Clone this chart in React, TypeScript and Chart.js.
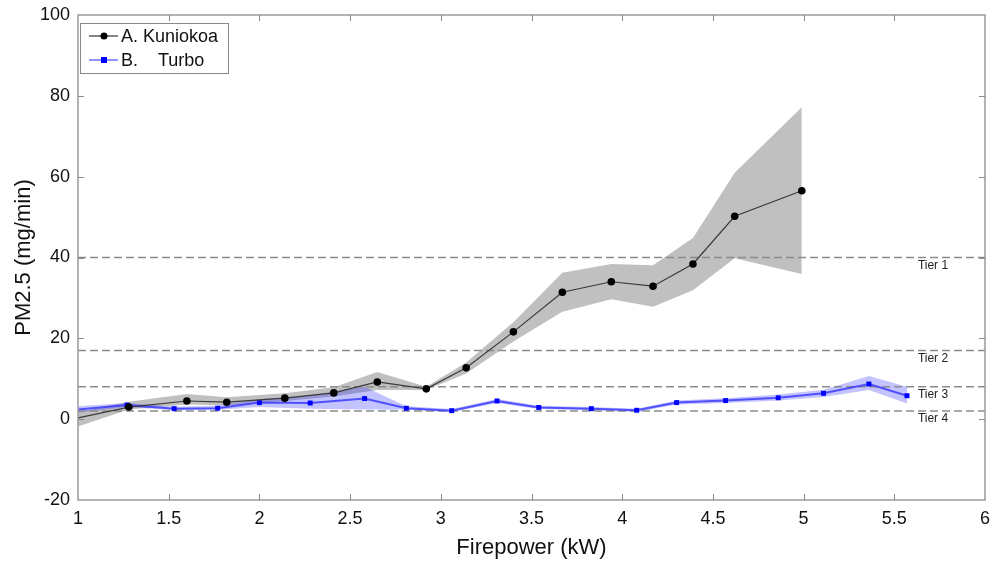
import React, { useEffect, useRef } from "react";
import { Chart, registerables } from "chart.js";

Chart.register(...registerables);

// ---- Data ----
const kwA = [1.0, 1.28, 1.6, 1.82, 2.14, 2.41, 2.65, 2.92, 3.14, 3.4, 3.67, 3.94, 4.17, 4.39, 4.62, 4.99];
const pmA = [0.3, 3.0, 4.5, 4.2, 5.2, 6.5, 9.2, 7.5, 12.7, 21.6, 31.4, 34.0, 32.9, 38.4, 50.2, 56.5];
const pmAUpper = [1.8, 4.3, 6.2, 5.4, 6.4, 7.9, 11.7, 8.0, 14.0, 24.0, 36.2, 38.4, 38.1, 44.8, 61.0, 77.2];
const pmALower = [-1.8, 2.4, 3.6, 3.4, 4.5, 5.6, 7.2, 7.2, 11.3, 19.2, 26.6, 29.7, 27.8, 31.9, 39.8, 35.9];

const kwB = [1.0, 1.27, 1.53, 1.77, 2.0, 2.28, 2.58, 2.81, 3.06, 3.31, 3.54, 3.83, 4.08, 4.3, 4.57, 4.86, 5.11, 5.36, 5.57];
const pmB = [2.4, 3.5, 2.6, 2.7, 4.1, 4.0, 5.1, 2.7, 2.1, 4.5, 2.9, 2.6, 2.2, 4.1, 4.6, 5.3, 6.4, 8.7, 5.8];
const pmBUpper = [3.2, 4.0, 3.1, 3.3, 4.9, 5.9, 8.0, 3.2, 2.5, 5.0, 3.3, 3.0, 2.6, 4.6, 5.2, 6.1, 7.3, 10.7, 8.0];
const pmBLower = [1.6, 3.0, 2.2, 2.3, 3.0, 2.6, 2.4, 2.3, 1.7, 4.0, 2.5, 2.2, 1.8, 3.6, 4.0, 4.6, 5.5, 7.2, 3.9];

const tierValues = [40, 17, 8, 2];
const tierLabels = ["Tier 1", "Tier 2", "Tier 3", "Tier 4"];
const tierLabelX = 5.63;

const seriesNames = ["A. Kuniokoa", "B.    Turbo"];
const xMin = 1, xMax = 6, xStep = 0.5;
const yMin = -20, yMax = 100, yStep = 20;
const xTitle = "Firepower (kW)";
const yTitle = "PM2.5 (mg/min)";

const FONT = "Arial, 'Liberation Sans', sans-serif";

const zip = (xs: number[], ys: number[]) => xs.map((x, i) => ({ x, y: ys[i] }));

const decorPlugin = {
  id: "decor",
  afterDatasetsDraw(chart: any) {
    const { ctx, chartArea: a, scales } = chart;
    const xs = scales.x, ys = scales.y;
    ctx.save();
    // tier labels
    ctx.fillStyle = "#222";
    ctx.font = `12px ${FONT}`;
    ctx.textAlign = "left";
    ctx.textBaseline = "middle";
    tierValues.forEach((v, i) => {
      ctx.fillText(tierLabels[i], xs.getPixelForValue(tierLabelX), ys.getPixelForValue(v) + 8);
    });
    // box
    ctx.strokeStyle = "#9a9a9a";
    ctx.lineWidth = 1.5;
    ctx.strokeRect(a.left, a.top, a.right - a.left, a.bottom - a.top);
    // ticks inward
    ctx.lineWidth = 1;
    ctx.strokeStyle = "#8a8a8a";
    const tl = 6;
    for (let v = xMin + xStep; v < xMax - 1e-9; v += xStep) {
      const px = Math.round(xs.getPixelForValue(v)) + 0.5;
      ctx.beginPath();
      ctx.moveTo(px, a.bottom); ctx.lineTo(px, a.bottom - tl);
      ctx.moveTo(px, a.top); ctx.lineTo(px, a.top + tl);
      ctx.stroke();
    }
    for (let v = yMin + yStep; v < yMax - 1e-9; v += yStep) {
      const py = Math.round(ys.getPixelForValue(v)) + 0.5;
      ctx.beginPath();
      ctx.moveTo(a.left, py); ctx.lineTo(a.left + tl, py);
      ctx.moveTo(a.right, py); ctx.lineTo(a.right - tl, py);
      ctx.stroke();
    }
    ctx.restore();
  },
  afterDraw(chart: any) {
    const { ctx, chartArea: a } = chart;
    ctx.save();
    const bx = a.left + 2, by = a.top + 8, bw = 148, bh = 50;
    ctx.fillStyle = "#fff";
    ctx.fillRect(bx, by, bw, bh);
    ctx.strokeStyle = "#888";
    ctx.lineWidth = 1;
    ctx.strokeRect(bx + 0.5, by + 0.5, bw, bh);
    const rows = [
      { color: "#333", marker: "circle", mcolor: "#000" },
      { color: "#4a4aff", marker: "square", mcolor: "#0000ff" },
    ];
    rows.forEach((r, i) => {
      const y = by + 13 + i * 24;
      ctx.strokeStyle = r.color;
      ctx.lineWidth = 1.2;
      ctx.beginPath();
      ctx.moveTo(bx + 9, y); ctx.lineTo(bx + 38, y);
      ctx.stroke();
      ctx.fillStyle = r.mcolor;
      if (r.marker === "circle") {
        ctx.beginPath(); ctx.arc(bx + 24, y, 3.5, 0, Math.PI * 2); ctx.fill();
      } else {
        ctx.fillRect(bx + 21, y - 3, 6, 6);
      }
      ctx.fillStyle = "#111";
      ctx.font = `18px ${FONT}`;
      ctx.textAlign = "left";
      ctx.textBaseline = "middle";
      ctx.fillText(seriesNames[i], bx + 41, y + 1);
    });
    ctx.restore();
  },
};

export default function App() {
  const ref = useRef<HTMLCanvasElement | null>(null);
  useEffect(() => {
    document.body.style.margin = "0";
    const canvas = ref.current!;
    const tierSets = tierValues.map((v) => ({
      label: "tier",
      data: [{ x: xMin, y: v }, { x: xMax, y: v }],
      showLine: true,
      borderColor: "#8c8c8c",
      borderWidth: 1.5,
      borderDash: [8, 4],
      pointRadius: 0,
      fill: false,
    }));
    const chart = new Chart(canvas, {
      type: "scatter",
      data: {
        datasets: [
          {
            label: seriesNames[0],
            data: zip(kwA, pmA),
            showLine: true,
            borderColor: "#3a3a3a",
            borderWidth: 1.2,
            pointRadius: (c: any) => (c.dataIndex === 0 ? 0 : 3.8),
            pointBackgroundColor: "#000",
            pointBorderWidth: 0,
            fill: false,
          },
          {
            label: seriesNames[1],
            data: zip(kwB, pmB),
            showLine: true,
            borderColor: "rgba(60,60,255,0.85)",
            borderWidth: 2,
            pointStyle: "rect",
            pointRadius: (c: any) => (c.dataIndex === 0 ? 0 : 3.5),
            pointBackgroundColor: "#0000ff",
            pointBorderWidth: 0,
            fill: false,
          },
          ...tierSets,
          {
            label: "bU",
            data: zip(kwB, pmBUpper),
            showLine: true,
            borderWidth: 0,
            borderColor: "rgba(0,0,0,0)",
            pointRadius: 0,
            backgroundColor: "rgba(40,40,255,0.28)",
            fill: "+1",
          },
          {
            label: "bL",
            data: zip(kwB, pmBLower),
            showLine: true,
            borderWidth: 0,
            borderColor: "rgba(0,0,0,0)",
            pointRadius: 0,
            fill: false,
          },
          {
            label: "aU",
            data: zip(kwA, pmAUpper),
            showLine: true,
            borderWidth: 0,
            borderColor: "rgba(0,0,0,0)",
            pointRadius: 0,
            backgroundColor: "rgba(140,140,140,0.55)",
            fill: "+1",
          },
          {
            label: "aL",
            data: zip(kwA, pmALower),
            showLine: true,
            borderWidth: 0,
            borderColor: "rgba(0,0,0,0)",
            pointRadius: 0,
            fill: false,
          },
        ],
      },
      options: {
        responsive: false,
        animation: false,
        layout: { padding: { top: 15, right: 7, left: 0, bottom: 0 } },
        plugins: { legend: { display: false }, tooltip: { enabled: false } },
        scales: {
          x: {
            type: "linear",
            min: xMin,
            max: xMax,
            afterFit: (s: any) => { s.height = 63; s.paddingRight = 0; s.paddingLeft = 0; },
            ticks: {
              stepSize: xStep,
              color: "#111",
              font: { size: 18, family: FONT },
              padding: 8,
              maxRotation: 0,
              callback: (v: any) => String(Number(v)),
            },
            grid: { display: true, drawOnChartArea: false, drawTicks: false },
            border: { display: false },
            title: { display: true, text: xTitle, color: "#111", font: { size: 22, family: FONT }, padding: { top: 0, bottom: 2 } },
          },
          y: {
            type: "linear",
            min: yMin,
            max: yMax,
            afterFit: (s: any) => { s.width = 78; s.paddingTop = 0; s.paddingBottom = 0; },
            ticks: { stepSize: yStep, color: "#111", font: { size: 18, family: FONT }, padding: 8 },
            grid: { display: true, drawOnChartArea: false, drawTicks: false },
            border: { display: false },
            title: { display: true, text: yTitle, color: "#111", font: { size: 22, family: FONT }, padding: { top: 11, bottom: 0 } },
          },
        },
      },
      plugins: [decorPlugin],
    } as any);
    return () => chart.destroy();
  }, []);
  return (
    <div style={{ position: "fixed", left: 0, top: 0, width: 992, height: 563, background: "#fff" }}>
      <canvas ref={ref} width={992} height={563} />
    </div>
  );
}
